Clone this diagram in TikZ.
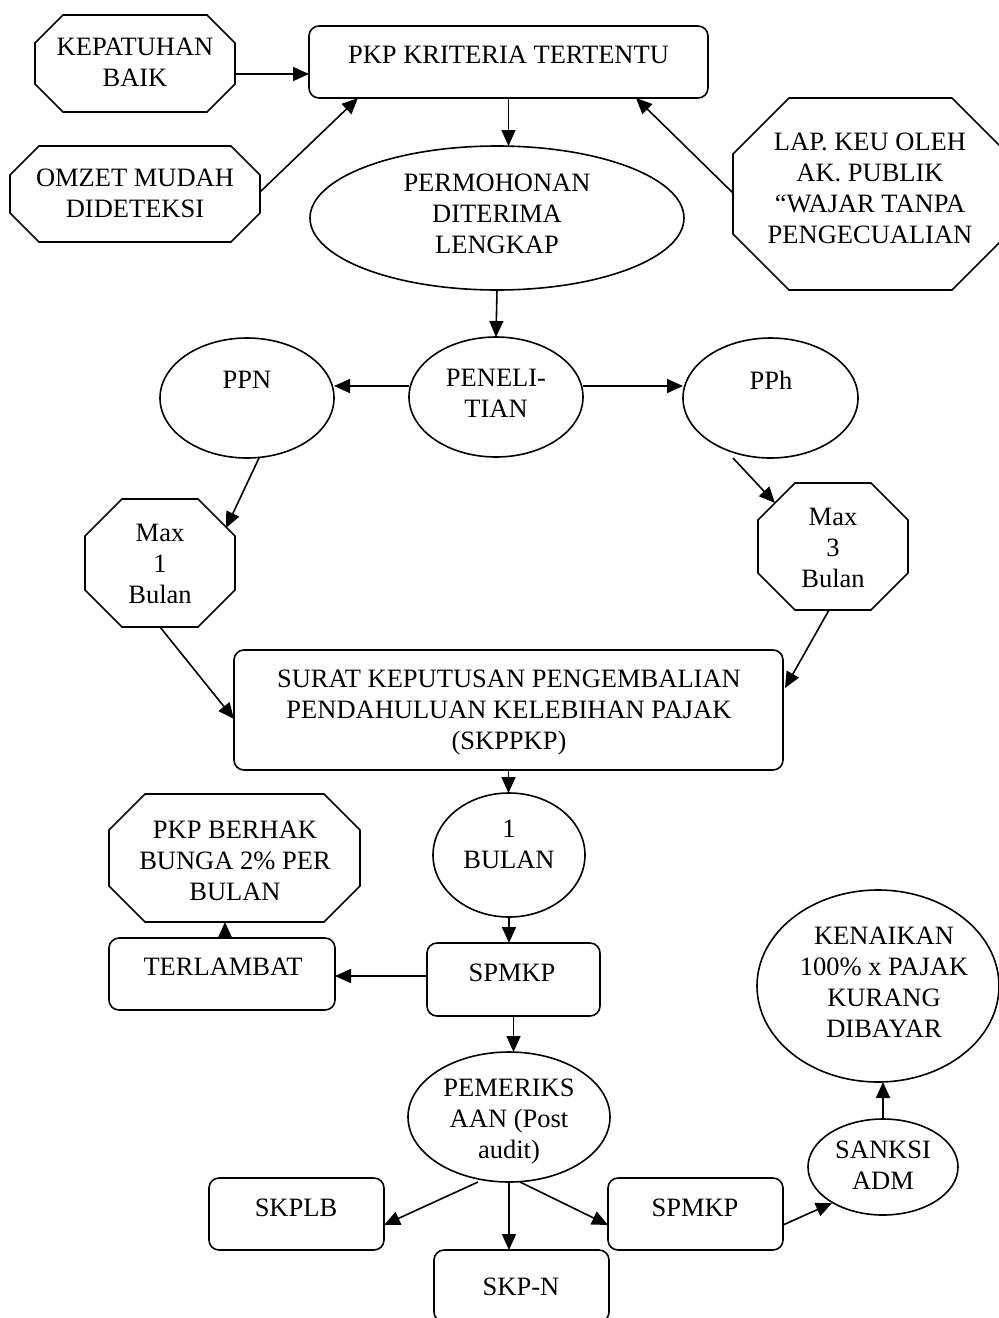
\documentclass[tikz,border=0pt]{standalone}
\usepackage{fontspec}
\setmainfont{Liberation Serif}
\usetikzlibrary{arrows.meta,calc,shapes.geometric}
\newcommand\octpath[2]{%
 \draw[line] ([xshift=#2]#1.north west) -- ([xshift=-#2]#1.north east) -- ([yshift=-#2]#1.north east) -- ([yshift=#2]#1.south east) -- ([xshift=-#2]#1.south east) -- ([xshift=#2]#1.south west) -- ([yshift=#2]#1.south west) -- ([yshift=-#2]#1.north west) -- cycle;}
\begin{document}
\begin{tikzpicture}[x=1pt,y=-1pt,
  line/.style={line width=1.6pt,line join=miter},
  arr/.style={line width=1.6pt,-{Triangle[length=16pt,width=14pt]}},
  rbox/.style={draw,line width=1.6pt,rectangle,rounded corners=10pt,inner sep=0pt,outer sep=0pt},
  obox/.style={rectangle,inner sep=0pt,outer sep=0pt},
  ebox/.style={draw,line width=1.6pt,ellipse,inner sep=0pt,outer sep=0pt},
  txt/.style={font=\fontsize{26.5}{31}\selectfont,align=center,inner sep=0pt}]
\useasboundingbox (0,0) rectangle (999,1318);
\fill[white] (0,0) rectangle (999,1318);

% shapes
\node[rbox,minimum width=399pt,minimum height=72pt] (pkp) at (508.5,62) {};
\node[txt] (pkpT) at (508.5,55) {PKP KRITERIA TERTENTU};

\node[obox,minimum width=200pt,minimum height=97pt] (kep) at (135,63.5) {};
\octpath{kep}{28pt}
\node[txt] (kepT) at (135,62.5) {KEPATUHAN\\BAIK};

\node[obox,minimum width=250pt,minimum height=96pt] (omz) at (135,194) {};
\octpath{omz}{29pt}
\node[txt] (omzT) at (135,193) {OMZET MUDAH\\DIDETEKSI};

\node[obox,minimum width=275pt,minimum height=192pt] (lap) at (870.5,194) {};
\octpath{lap}{56pt}
\node[txt] (lapT) at (870,188) {LAP. KEU OLEH\\AK. PUBLIK\\“WAJAR TANPA\\PENGECUALIAN};

\node[ebox,minimum width=374pt,minimum height=144pt] (perm) at (497,218) {};
\node[txt] (permT) at (497,213.5) {PERMOHONAN\\DITERIMA\\LENGKAP};

\node[ebox,minimum width=174pt,minimum height=120pt] (pen) at (496,397) {};
\node[txt] (penT) at (496,393) {PENELI-\\TIAN};

\node[ebox,minimum width=174pt,minimum height=120pt] (ppn) at (247,398) {};
\node[txt] (ppnT) at (247,380) {PPN};

\node[ebox,minimum width=175pt,minimum height=120pt] (pph) at (770.5,398) {};
\node[txt] (pphT) at (771,380) {PPh};

\node[obox,minimum width=150pt,minimum height=128pt] (maxa) at (160,563) {};
\octpath{maxa}{37pt}
\node[txt] (maxaT) at (160,564) {Max\\1\\Bulan};

\node[obox,minimum width=150pt,minimum height=127pt] (maxb) at (833,546.5) {};
\octpath{maxb}{37pt}
\node[txt] (maxbT) at (833,548) {Max\\3\\Bulan};

\node[rbox,minimum width=549pt,minimum height=120pt] (skp) at (508.5,710) {};
\node[txt] (skpT) at (509,712.5) {SURAT KEPUTUSAN PENGEMBALIAN\\PENDAHULUAN KELEBIHAN PAJAK\\(SKPPKP)};

\node[ebox,minimum width=152pt,minimum height=124pt] (bln) at (509,855) {};
\node[txt] (blnT) at (509,844) {1\\BULAN};

\node[obox,minimum width=251pt,minimum height=128pt] (berhak) at (234.5,858) {};
\octpath{berhak}{36pt}
\node[txt] (berhakT) at (235,861) {PKP BERHAK\\BUNGA 2\% PER\\BULAN};

\node[rbox,minimum width=226pt,minimum height=72pt] (ter) at (222,974) {};
\node[txt] (terT) at (223,967) {TERLAMBAT};

\node[rbox,minimum width=173pt,minimum height=73pt] (spma) at (513.5,979.5) {};
\node[txt] (spmaT) at (512,973) {SPMKP};

\node[ebox,minimum width=202pt,minimum height=130pt] (pem) at (509,1117) {};
\node[txt] (pemT) at (509,1121.5) {PEMERIKS\\AAN (Post\\audit)};

\node[rbox,minimum width=175pt,minimum height=72pt] (skplb) at (296.5,1214) {};
\node[txt] (skplbT) at (296,1208) {SKPLB};

\node[rbox,minimum width=175pt,minimum height=72pt] (skpn) at (521.5,1286) {};
\node[txt] (skpnT) at (521,1287) {SKP-N};

\node[rbox,minimum width=175pt,minimum height=72pt] (spmb) at (695.5,1214) {};
\node[txt] (spmbT) at (695,1208) {SPMKP};

\node[ebox,minimum width=150pt,minimum height=96pt] (san) at (883,1167) {};
\node[txt] (sanT) at (883,1165) {SANKSI\\ADM};

\node[ebox,minimum width=242pt,minimum height=192pt] (ken) at (878,986) {};
\node[txt] (kenT) at (884,982) {KENAIKAN\\100\% x PAJAK\\KURANG\\DIBAYAR};

% connectors
\draw[arr] (kep.east |- 0,74) -- (pkp.west |- 0,74);
\draw[arr] ($(omz.east)+(0,-2)$) -- ($(pkp.south west)+(49,0)$);
\draw[arr] ($(lap.west)+(0,-1)$) -- ($(pkp.south)+(127.5,0)$);
\draw[arr] (pkp.south) -- (pkp.south |- perm.north);
\draw[arr] (perm.south) -- (pen.north);
\draw[arr] (pen.west |- 0,386) -- (ppn.east |- 0,386);
\draw[arr] (pen.east |- 0,386) -- (pph.west |- 0,386);
\draw[arr] ($(ppn.south)+(12,0)$) -- ($(maxa.north east)+(-9,29)$);
\draw[arr] ($(pph.south)+(-37.5,0)$) -- ($(maxb.north west)+(17,20)$);
\draw[arr] (maxa.south) -- ($(skp.west)+(0,9)$);
\draw[arr] ($(maxb.south)+(-4,0)$) -- ($(skp.east)+(2,-22)$);
\draw[arr] (skp.south) -- (skp.south |- bln.north);
\draw[arr] (bln.south) -- (bln.south |- spma.north);
\draw[arr] (spma.west |- 0,976) -- (ter.east |- 0,976);
\draw[arr] ($(ter.north)+(3,0)$) -- ($(ter.north |- berhak.south)+(3,0)$);
\draw[arr] (spma.south) -- (spma.south |- pem.north);
\draw[arr] ($(pem.south)+(-31,0)$) -- ($(skplb.east)+(0,11)$);
\draw[arr] (pem.south) -- (pem.south |- skpn.north);
\draw[arr] ($(pem.south)+(11,0)$) -- ($(spmb.west)+(0,11)$);
\draw[arr] ($(spmb.east)+(0,11)$) -- ($(san.center)+(-51,36)$);
\draw[arr] (san.north) -- (san.north |- ken.south);
\end{tikzpicture}
\end{document}
